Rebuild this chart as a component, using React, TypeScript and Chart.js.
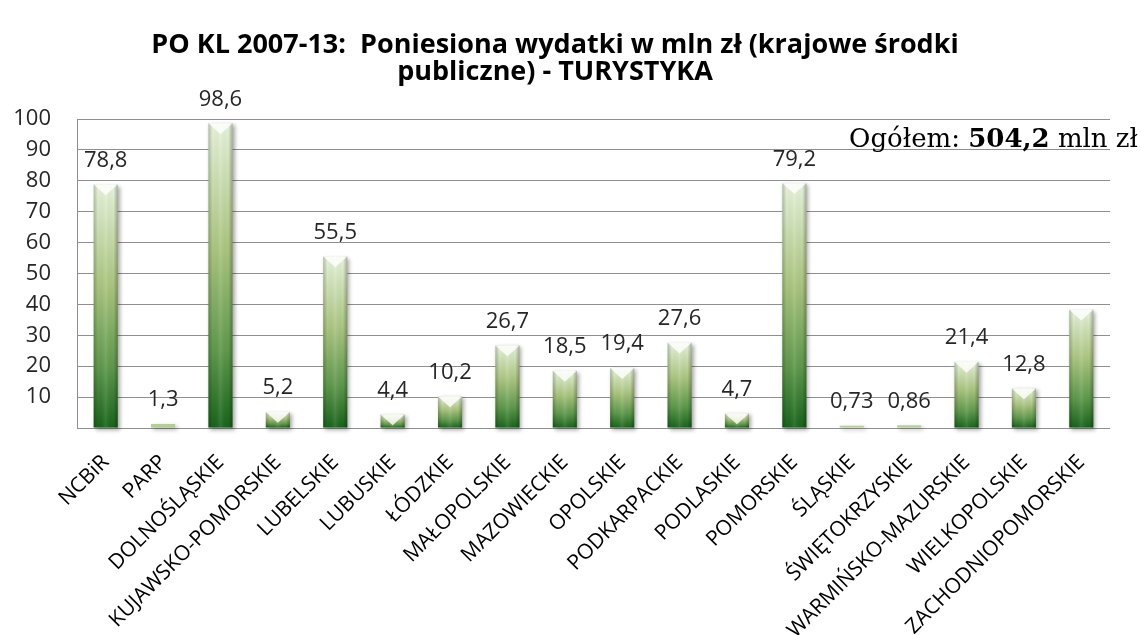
import React, { useEffect, useRef } from 'react';
import { Chart, registerables } from 'chart.js';

Chart.register(...registerables);

const categories = [
  'NCBiR', 'PARP', 'DOLNOŚLĄSKIE', 'KUJAWSKO-POMORSKIE', 'LUBELSKIE', 'LUBUSKIE',
  'ŁÓDZKIE', 'MAŁOPOLSKIE', 'MAZOWIECKIE', 'OPOLSKIE', 'PODKARPACKIE', 'PODLASKIE',
  'POMORSKIE', 'ŚLĄSKIE', 'ŚWIĘTOKRZYSKIE', 'WARMIŃSKO-MAZURSKIE', 'WIELKOPOLSKIE',
  'ZACHODNIOPOMORSKIE',
];
const values = [78.8, 1.3, 98.6, 5.2, 55.5, 4.4, 10.2, 26.7, 18.5, 19.4, 27.6, 4.7, 79.2, 0.73, 0.86, 21.4, 12.8, 38.3];
const valueLabels = ['78,8', '1,3', '98,6', '5,2', '55,5', '4,4', '10,2', '26,7', '18,5', '19,4', '27,6', '4,7', '79,2', '0,73', '0,86', '21,4', '12,8', ''];
const yTickValues = [10, 20, 30, 40, 50, 60, 70, 80, 90, 100];
const titleLines = ['PO KL 2007-13:  Poniesiona wydatki w mln zł (krajowe środki', 'publiczne) - TURYSTYKA'];
const totalParts = ['Ogółem: ', '504,2', ' mln zł'];

const barFx = {
  id: 'barFx',
  beforeDatasetsDraw(chart: any) {
    const ctx = chart.ctx;
    ctx.save();
    ctx.shadowColor = 'rgba(0,0,0,0.35)';
    ctx.shadowBlur = 4;
    ctx.shadowOffsetX = 2;
    ctx.shadowOffsetY = 2;
  },
  afterDatasetsDraw(chart: any) {
    const ctx = chart.ctx;
    ctx.restore();
    const meta = chart.getDatasetMeta(0);
    meta.data.forEach((el: any, i: number) => {
      const { x, y, base, width } = el.getProps(['x', 'y', 'base', 'width'], true);
      const h = base - y;
      if (h > 4) {
        const g = ctx.createLinearGradient(x - width / 2, 0, x + width / 2, 0);
        g.addColorStop(0, 'rgba(0,0,0,0.22)');
        g.addColorStop(0.18, 'rgba(0,0,0,0)');
        g.addColorStop(0.5, 'rgba(255,255,255,0.10)');
        g.addColorStop(0.82, 'rgba(0,0,0,0)');
        g.addColorStop(1, 'rgba(0,0,0,0.28)');
        ctx.save();
        ctx.fillStyle = g;
        ctx.fillRect(x - width / 2, y, width, h);
        const d = Math.min(width * 0.45, h);
        ctx.beginPath();
        ctx.moveTo(x - width / 2, y);
        ctx.lineTo(x + width / 2, y);
        ctx.lineTo(x, y + d);
        ctx.closePath();
        ctx.fillStyle = 'rgba(255,255,255,0.8)';
        ctx.fill();
        ctx.restore();
      }
      const txt = valueLabels[i];
      if (txt) {
        ctx.save();
        ctx.font = '22px "Open Sans"';
        ctx.fillStyle = '#262626';
        ctx.textAlign = 'center';
        ctx.textBaseline = 'middle';
        ctx.fillText(txt, x, y - 24);
        ctx.restore();
      }
    });
  },
  afterDraw(chart: any) {
    const ctx = chart.ctx;
    ctx.save();
    const reg = '26px "DejaVu Serif"';
    const bold = 'bold 26px "DejaVu Serif"';
    ctx.font = reg;
    const w1 = ctx.measureText(totalParts[0]).width;
    const w3 = ctx.measureText(totalParts[2]).width;
    ctx.font = bold;
    const w2 = ctx.measureText(totalParts[1]).width;
    const total = w1 + w2 + w3;
    let x = chart.width - 3 - total;
    const y = 147;
    ctx.fillStyle = '#000';
    ctx.textBaseline = 'alphabetic';
    ctx.textAlign = 'left';
    ctx.font = reg;
    ctx.fillText(totalParts[0], x, y);
    x += w1;
    ctx.font = bold;
    ctx.fillText(totalParts[1], x, y);
    x += w2;
    ctx.font = reg;
    ctx.fillText(totalParts[2], x, y);
    ctx.restore();
  },
};

export default function App() {
  const ref = useRef<HTMLCanvasElement>(null);
  useEffect(() => {
    if (!ref.current) return;
    const chart = new Chart(ref.current, {
      type: 'bar',
      data: {
        labels: categories,
        datasets: [
          {
            data: values,
            clip: false as any,
            barPercentage: 0.42,
            categoryPercentage: 1,
            backgroundColor: (c: any) => {
              const chart = c.chart;
              const { ctx, chartArea, scales } = chart;
              if (!chartArea || c.type !== 'data' || !scales.y) return '#6fa050';
              const top = scales.y.getPixelForValue(c.raw);
              const bot = scales.y.getPixelForValue(0);
              if (bot - top < 6) return '#b3cf92';
              const g = ctx.createLinearGradient(0, top, 0, bot);
              g.addColorStop(0, '#e6f3da');
              g.addColorStop(0.42, '#a9c47e');
              g.addColorStop(0.75, '#5d984a');
              g.addColorStop(1, '#17631a');
              return g;
            },
          },
        ],
      },
      options: {
        animation: false,
        responsive: false,
        maintainAspectRatio: false,
        layout: { padding: { left: 0, right: 31, top: 0, bottom: 0 } },
        plugins: {
          legend: { display: false },
          tooltip: { enabled: false },
          title: {
            display: true,
            text: titleLines,
            color: '#000',
            font: { family: '"Open Sans"', size: 27, weight: 'bold', lineHeight: 1.0 },
            padding: { top: 32, bottom: 33 },
          },
        },
        scales: {
          x: {
            grid: { display: false },
            border: { display: false },
            ticks: {
              color: '#000',
              font: { family: '"Open Sans"', size: 21 },
              maxRotation: 45,
              minRotation: 45,
              autoSkip: false,
              padding: 14,
            },
            afterFit: (s: any) => { s.height = 207; },
          },
          y: {
            min: 0,
            max: 100,
            afterBuildTicks: (s: any) => { s.ticks = [0, ...yTickValues].map((v) => ({ value: v })); },
            grid: { color: '#8f8f8f', lineWidth: 1, drawTicks: false },
            border: { display: true, color: '#8f8f8f' },
            ticks: {
              color: '#262626',
              font: { family: '"Open Sans"', size: 22 },
              padding: 26,
              callback: (v: any) => (v === 0 ? '' : String(v)),
            },
            afterFit: (s: any) => { s.width = 77; },
          },
        },
      },
      plugins: [barFx],
    });
    return () => chart.destroy();
  }, []);
  return (
    <div style={{ position: 'fixed', left: 0, top: 0, width: 1141, height: 635, background: '#fff' }}>
      <canvas ref={ref} width={1141} height={635} style={{ width: 1141, height: 635 }} />
    </div>
  );
}
